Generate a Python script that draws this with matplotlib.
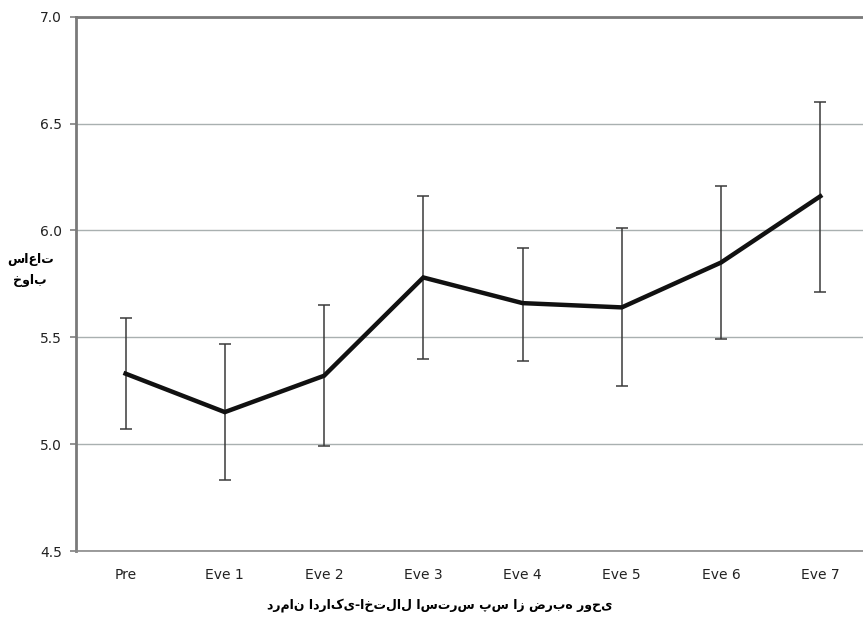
import matplotlib
matplotlib.use("Agg")
import matplotlib.pyplot as plt

# categories and values
labels = ["Pre", "Eve 1", "Eve 2", "Eve 3", "Eve 4", "Eve 5", "Eve 6", "Eve 7"]
hours = [5.33, 5.15, 5.32, 5.78, 5.66, 5.64, 5.85, 6.16]
err_low = [0.26, 0.32, 0.33, 0.38, 0.27, 0.37, 0.36, 0.45]
err_high = [0.26, 0.32, 0.33, 0.38, 0.26, 0.37, 0.36, 0.44]
yticks = [4.5, 5.0, 5.5, 6.0, 6.5, 7.0]

ylabel = "ساعات\nخواب"
xlabel = "درمان ادراکی-اختلال استرس پس از ضربه روحی"

plt.rcParams['font.family'] = ['DejaVu Sans']

fig = plt.figure(figsize=(8.63, 6.21), dpi=100)
ax = fig.add_axes([0.088, 0.1127, 0.92, 0.8603])

x = list(range(len(labels)))
ax.errorbar(x, hours, yerr=[err_low, err_high], fmt='none', ecolor='#3a3a3a',
            elinewidth=1.1, capsize=4, capthick=1.1, zorder=3)
ax.plot(x, hours, color='#111111', lw=3.2, solid_joinstyle='miter', zorder=4)

ax.set_xlim(-0.5, len(labels) - 0.5)
ax.set_ylim(4.5, 7.0)
ax.set_yticks(yticks)
ax.set_yticklabels([f"{v:.1f}" for v in yticks])
ax.set_xticks(x)
ax.set_xticklabels(labels)
ax.tick_params(axis='x', length=0, labelsize=10, pad=12)
ax.tick_params(axis='y', length=4, width=1.2, color='#808080', labelsize=10,
               pad=6, labelcolor='#222222')
ax.tick_params(axis='x', labelcolor='#222222')
ax.yaxis.grid(True, color='#a9b0b0', lw=1)
ax.set_axisbelow(True)

for s in ['top', 'left']:
    ax.spines[s].set_color('#7a7a7a')
    ax.spines[s].set_linewidth(2)
ax.spines['bottom'].set_color('#8a8a8a')
ax.spines['bottom'].set_linewidth(1.2)
ax.spines['right'].set_visible(False)

fig.text(0.035, 0.565, ylabel, ha='center', va='center', fontsize=9,
         fontweight='bold', linespacing=1.8)
fig.text(0.51, 0.025, xlabel, ha='center', va='center', fontsize=9,
         fontweight='bold')

fig.savefig("out.png", dpi=100)
